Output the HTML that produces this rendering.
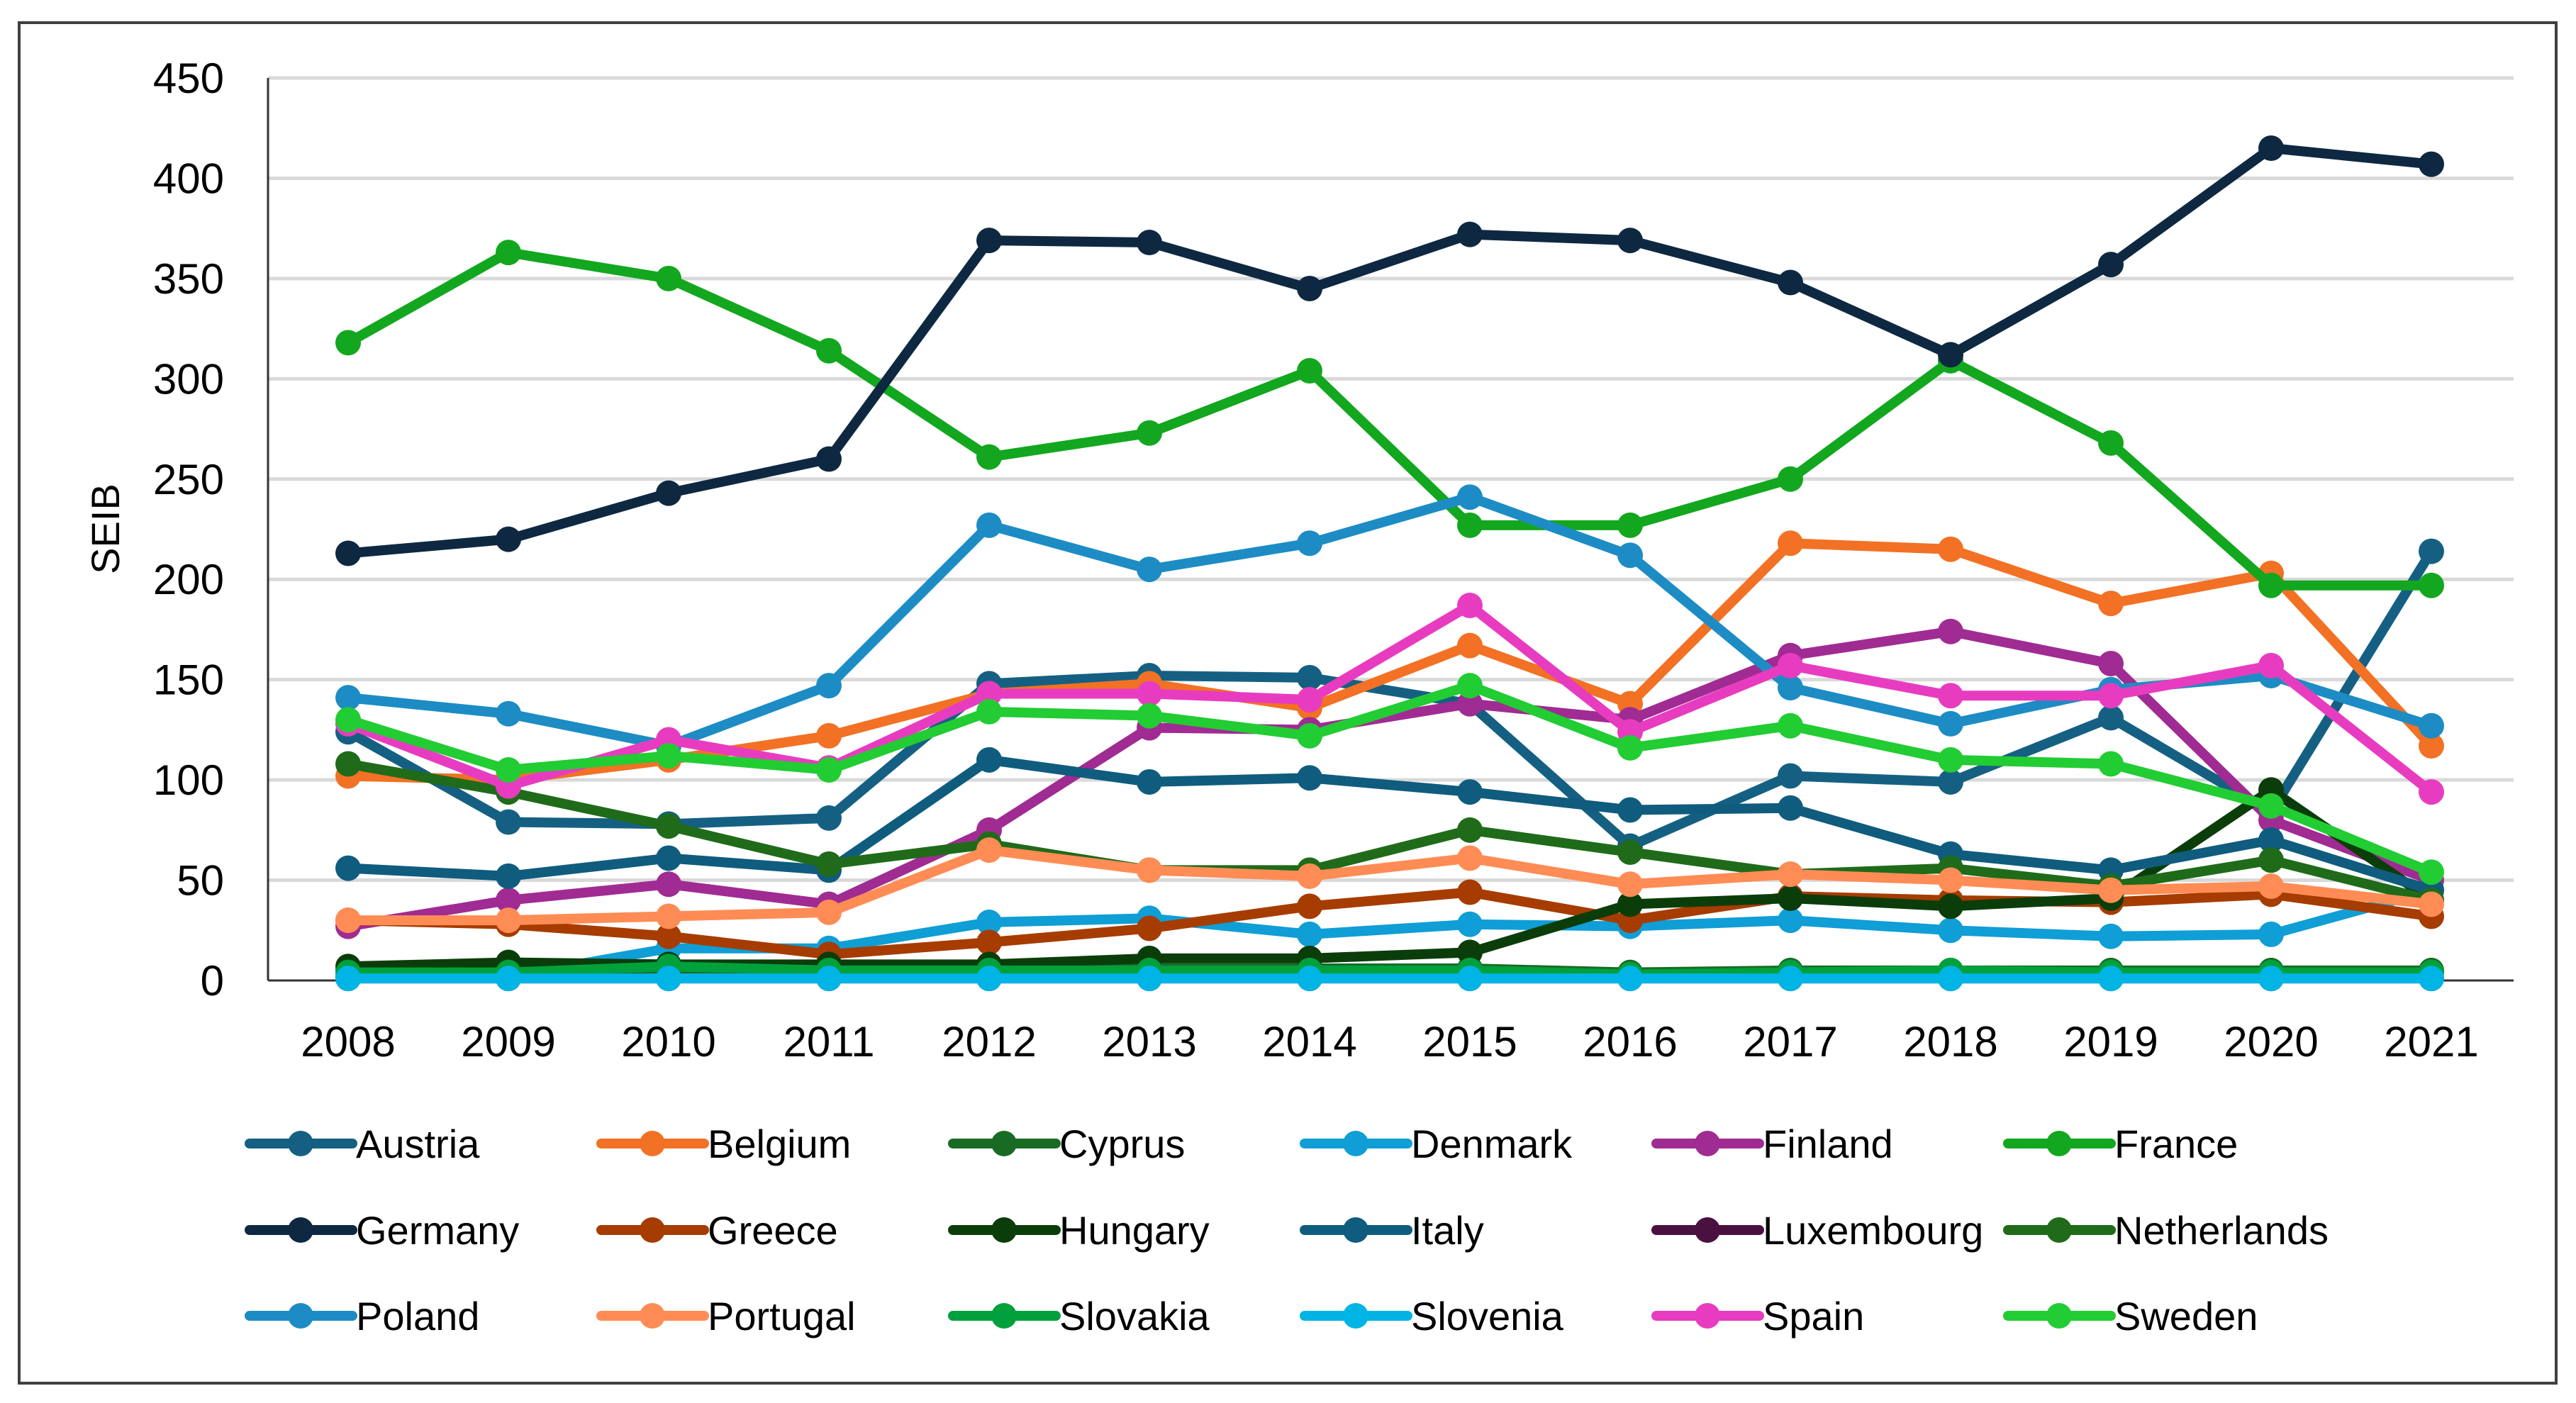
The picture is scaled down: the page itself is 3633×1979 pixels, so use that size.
<!DOCTYPE html>
<html><head><meta charset="utf-8"><style>
html,body{margin:0;padding:0;background:#fff;}
svg{display:block;font-family:"Liberation Sans",sans-serif;}
</style></head><body>
<svg id="chart" width="3633" height="1979" viewBox="0 0 3633 1979" xmlns="http://www.w3.org/2000/svg">
<rect x="27" y="32" width="3578" height="1919" fill="#fff" stroke="#404040" stroke-width="4"/>
<g id="grid"></g>
<g id="yticks"></g>
<g id="xticks"></g>
<text x="168" y="746" font-size="56" text-anchor="middle" transform="rotate(-90 168 746)" fill="#000">SEIB</text>
<g id="series"></g>
<g id="legend"></g>
</svg>
<script>
const years = [2008,2009,2010,2011,2012,2013,2014,2015,2016,2017,2018,2019,2020,2021];
const yTicks = [0,50,100,150,200,250,300,350,400,450];
const countries = ["Austria","Belgium","Cyprus","Denmark","Finland","France","Germany","Greece","Hungary","Italy","Luxembourg","Netherlands","Poland","Portugal","Slovakia","Slovenia","Spain","Sweden"];
const colors = ["#156082","#F27124","#196B24","#0F9ED5","#A02B93","#12A71E","#0E2841","#A63C00","#0B3D0B","#0F5C7E","#4A1040","#1F6B1A","#1D8CC4","#FF8C55","#00A03C","#00B4E6","#E83CC0","#22CC33"];
const austria = [124,79,78,81,148,152,151,138,67,102,99,131,84,214];
const belgium = [102,100,110,122,143,148,136,167,138,218,215,188,203,117];
const cyprus = [5,5,6,6,6,6,6,6,4,5,5,5,5,5];
const denmark = [2,2,16,16,29,31,23,28,27,30,25,22,23,45];
const finland = [27,40,48,38,75,126,125,138,130,162,174,158,80,50];
const france = [318,363,350,314,261,273,304,227,227,250,309,268,197,197];
const germany = [213,220,243,260,369,368,345,372,369,348,312,357,415,407];
const greece = [30,28,22,13,19,26,37,44,30,42,40,39,43,32];
const hungary = [7,9,8,8,8,11,11,14,38,41,37,41,95,40];
const italy = [56,52,61,55,110,99,101,94,85,86,63,55,70,45];
const luxembourg = [1,1,1,1,1,1,1,1,1,1,1,1,1,1];
const netherlands = [108,94,77,58,68,55,55,75,64,53,56,47,60,40];
const poland = [141,133,117,147,227,205,218,241,212,146,128,145,152,127];
const portugal = [30,30,32,34,65,55,52,61,48,53,50,45,47,38];
const slovakia = [4,4,7,5,5,5,5,5,3,4,5,4,4,4];
const slovenia = [1,1,1,1,1,1,1,1,1,1,1,1,1,1];
const spain = [128,97,120,106,143,143,140,187,124,157,142,142,157,94];
const sweden = [130,105,112,105,134,132,122,147,116,127,110,108,87,54];
const seriesValues = [austria,belgium,cyprus,denmark,finland,france,germany,greece,hungary,italy,luxembourg,netherlands,poland,portugal,slovakia,slovenia,spain,sweden];

const NS = "http://www.w3.org/2000/svg";
const plotL = 378, plotR = 3545, y0px = 1383, yTop = 110;
const x0 = 491, x1 = 3429;
function xScale(i){ return x0 + (x1 - x0) * i / (years.length - 1); }
function yScale(v){ return y0px - (y0px - yTop) * v / 450; }
function mk(tag, attrs, parent){ const e = document.createElementNS(NS, tag); for (const k in attrs) e.setAttribute(k, attrs[k]); parent.appendChild(e); return e; }

const grid = document.getElementById('grid');
const yt = document.getElementById('yticks');
yTicks.forEach(t => {
  if (t > 0) {
    const g = mk('line', {x1: plotL, x2: plotR, y1: yScale(t), y2: yScale(t), stroke: '#d9d9d9', 'stroke-width': 5}, grid);
    
    
  }
  const tx = mk('text', {x: 316, y: yScale(t) + 21, 'font-size': 60, 'text-anchor': 'end', fill: '#000'}, yt);
  tx.textContent = t;
  
  
});
const ax = mk('line', {x1: plotL, x2: plotL, y1: yTop, y2: y0px, stroke: '#333', 'stroke-width': 3}, grid);


const bx = mk('line', {x1: plotL, x2: plotR, y1: y0px, y2: y0px, stroke: '#333', 'stroke-width': 3}, grid);



const xt = document.getElementById('xticks');
years.forEach((yr, i) => {
  const tx = mk('text', {x: xScale(i), y: 1490, 'font-size': 60, 'text-anchor': 'middle', fill: '#000'}, xt);
  tx.textContent = yr;
  
  
});

const sg = document.getElementById('series');
seriesValues.forEach((vals, s) => {
  const g = mk('g', {}, sg);
  
  
  const pts = vals.map((v, i) => xScale(i) + ',' + yScale(v)).join(' ');
  const pl = mk('polyline', {points: pts, fill: 'none', stroke: colors[s], 'stroke-width': 14, 'stroke-linejoin': 'round'}, g);
  
  
  vals.forEach((v, i) => {
    const c = mk('circle', {cx: xScale(i), cy: yScale(v), r: 18, fill: colors[s]}, g);
    
    
  });
});

const lg = document.getElementById('legend');
const rowsY = [1613, 1735, 1856];
countries.forEach((c, i) => {
  const col = i % 6, row = Math.floor(i / 6);
  const lx = 352 + col * 496, ly = rowsY[row];
  const g = mk('g', {}, lg);
  
  
  mk('line', {x1: lx, x2: lx + 145, y1: ly, y2: ly, stroke: colors[i], 'stroke-width': 14, 'stroke-linecap': 'round'}, g);
  mk('circle', {cx: lx + 72, cy: ly, r: 18, fill: colors[i]}, g);
  const t = mk('text', {x: lx + 150, y: ly + 20, 'font-size': 56, fill: '#000'}, g);
  t.textContent = c;
});
</script>
</body></html>
